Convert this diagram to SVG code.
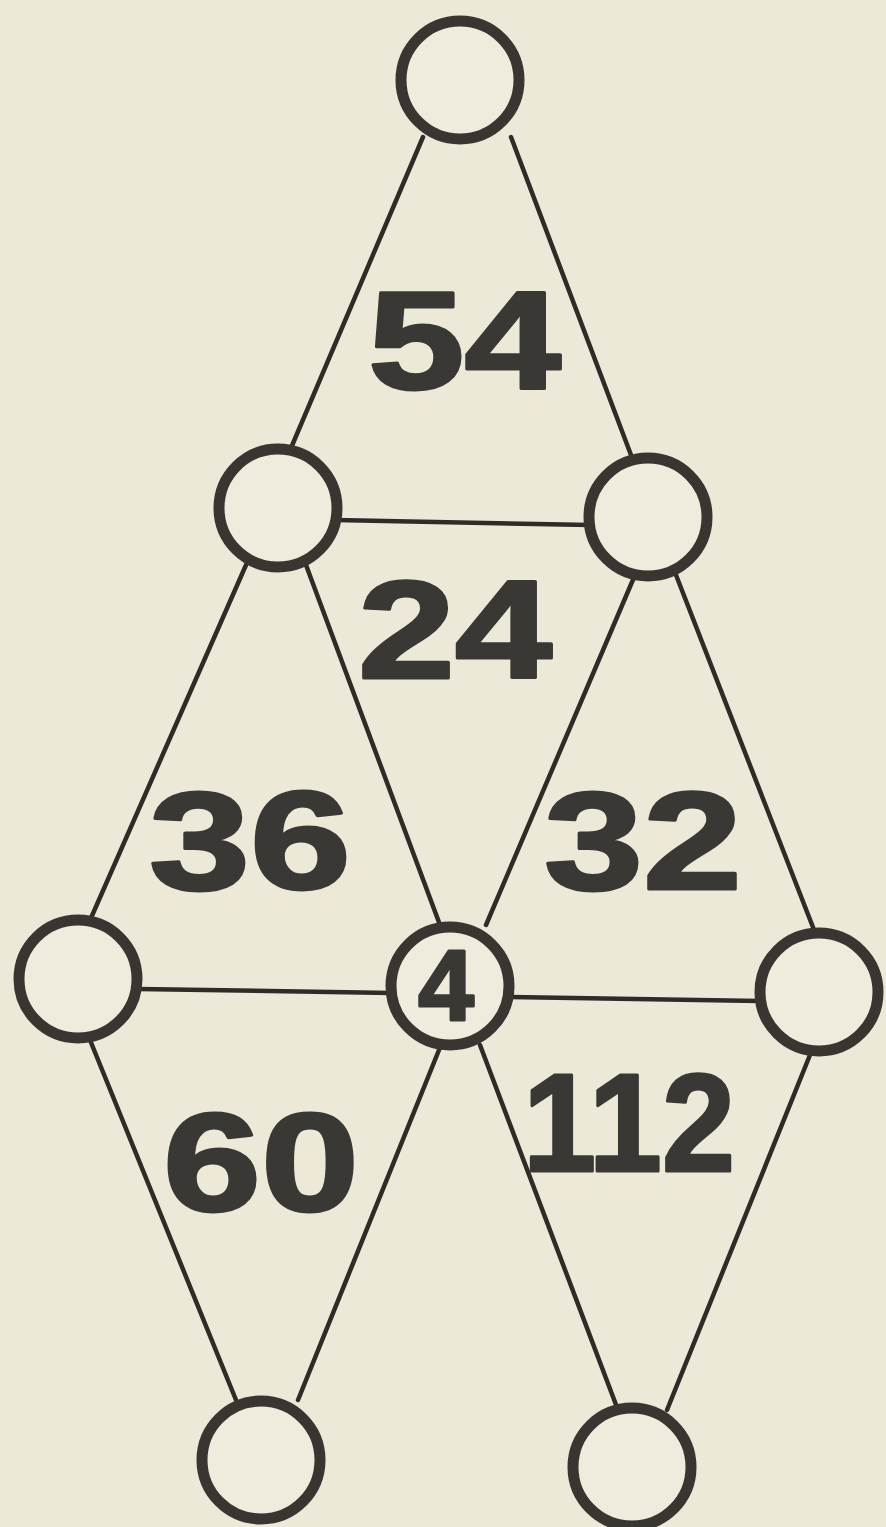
<svg xmlns="http://www.w3.org/2000/svg" width="886" height="1527" viewBox="0 0 886 1527">
<style>
.edge{stroke:#2f2c28;stroke-width:4.5;stroke-linecap:round;fill:none}
.node{fill:#efecdd;stroke:#393632;stroke-width:11}
.num{font-family:"Liberation Sans",Arial,sans-serif;font-weight:bold;font-size:139px;fill:#3a3834;stroke:#3a3834;stroke-width:3;stroke-linejoin:round}
.small{font-family:"Liberation Sans",Arial,sans-serif;font-weight:bold;font-size:100px;fill:#3a3834;stroke:#3a3834;stroke-width:3;stroke-linejoin:round;text-anchor:middle}
</style>
<rect x="0" y="0" width="886" height="1527" fill="#ece9d8"/>
<g id="connectors">
<line class="edge" x1="423" y1="137" x2="291" y2="448"/>
<line class="edge" x1="511" y1="137" x2="631" y2="455"/>
<line class="edge" x1="335" y1="520" x2="590" y2="525"/>
<line class="edge" x1="246" y1="565" x2="91" y2="918"/>
<line class="edge" x1="306" y1="565" x2="440" y2="925"/>
<line class="edge" x1="635" y1="575" x2="486" y2="925"/>
<line class="edge" x1="676" y1="575" x2="816" y2="935"/>
<line class="edge" x1="138" y1="989" x2="392" y2="993"/>
<line class="edge" x1="510" y1="997" x2="760" y2="1001"/>
<line class="edge" x1="90" y1="1040" x2="236" y2="1400"/>
<line class="edge" x1="441" y1="1045" x2="298" y2="1400"/>
<line class="edge" x1="480" y1="1045" x2="618" y2="1410"/>
<line class="edge" x1="812" y1="1050" x2="667" y2="1410"/>
</g>
<g id="node-top"><circle class="node" cx="460" cy="80" r="59"/></g>
<g id="node-midleft"><circle class="node" cx="278" cy="508" r="59"/></g>
<g id="node-midright"><circle class="node" cx="648" cy="517" r="59"/></g>
<g id="node-left"><circle class="node" cx="78" cy="979" r="59"/></g>
<g id="node-center"><circle class="node" cx="450" cy="986" r="59"/><text class="small" x="446" y="1020">4</text></g>
<g id="node-right"><circle class="node" cx="819" cy="992" r="59"/></g>
<g id="node-bottomleft"><circle class="node" cx="261" cy="1460" r="59"/></g>
<g id="node-bottomright"><circle class="node" cx="632" cy="1467" r="59"/></g>
<g id="labels">
<text class="num" x="368" y="389" textLength="193" lengthAdjust="spacingAndGlyphs">54</text>
<text class="num" x="358" y="678" textLength="194" lengthAdjust="spacingAndGlyphs">24</text>
<text class="num" x="149" y="889" textLength="202" lengthAdjust="spacingAndGlyphs">36</text>
<text class="num" x="544" y="889" textLength="198" lengthAdjust="spacingAndGlyphs">32</text>
<text class="num" x="163" y="1211" textLength="196" lengthAdjust="spacingAndGlyphs">60</text>
<text class="num" x="523" y="1171" textLength="212" lengthAdjust="spacingAndGlyphs">112</text>
</g>
</svg>
